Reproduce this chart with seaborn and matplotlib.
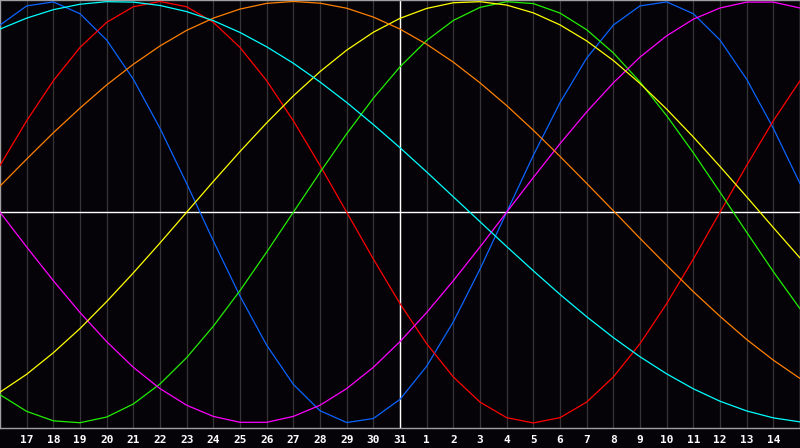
import numpy as np
import pandas as pd
import matplotlib
matplotlib.use('Agg')
import matplotlib.pyplot as plt
import seaborn as sns

# day positions (0 = 16th, 30 = 15th of next month) and labels
days = list(range(0, 31))
day_labels = [str(d) for d in range(17, 32)] + [str(d) for d in range(1, 15)]

# cycle values, one per day
physical = [0.888, 0.979, 0.998, 0.942, 0.817, 0.631, 0.398, 0.136, -0.136, -0.398, -0.631,
            -0.817, -0.942, -0.998, -0.979, -0.888, -0.731, -0.520, -0.270, 0.000, 0.270,
            0.520, 0.731, 0.888, 0.979, 0.998, 0.942, 0.817, 0.631, 0.398, 0.136]
emotional = [0.222, 0.434, 0.624, 0.782, 0.901, 0.975, 1.000, 0.975, 0.901, 0.782, 0.624,
             0.434, 0.222, 0.000, -0.222, -0.434, -0.624, -0.782, -0.901, -0.975, -1.000,
             -0.975, -0.901, -0.782, -0.624, -0.434, -0.222, 0.000, 0.222, 0.434, 0.624]
intellectual = [-0.866, -0.945, -0.990, -0.999, -0.972, -0.910, -0.815, -0.690, -0.541, -0.372,
                -0.189, 0.000, 0.189, 0.372, 0.541, 0.690, 0.815, 0.910, 0.972, 0.999, 0.990,
                0.945, 0.866, 0.756, 0.618, 0.458, 0.282, 0.095, -0.095, -0.282, -0.458]
intuitive = [0.000, -0.165, -0.325, -0.476, -0.614, -0.736, -0.837, -0.916, -0.969, -0.997,
             -0.997, -0.969, -0.916, -0.837, -0.736, -0.614, -0.476, -0.325, -0.165, 0.000,
             0.165, 0.325, 0.476, 0.614, 0.736, 0.837, 0.916, 0.969, 0.997, 0.997, 0.969]
aesthetic = [-0.854, -0.769, -0.667, -0.552, -0.424, -0.288, -0.146, 0.000, 0.146, 0.288,
             0.424, 0.552, 0.667, 0.769, 0.854, 0.920, 0.967, 0.994, 0.999, 0.983, 0.946,
             0.889, 0.813, 0.720, 0.611, 0.489, 0.357, 0.217, 0.073, -0.073, -0.217]
awareness = [0.124, 0.252, 0.377, 0.494, 0.604, 0.702, 0.789, 0.863, 0.921, 0.964, 0.991,
             1.000, 0.992, 0.968, 0.926, 0.869, 0.797, 0.712, 0.614, 0.506, 0.389, 0.265,
             0.137, 0.007, -0.124, -0.252, -0.377, -0.494, -0.604, -0.702, -0.789]
spiritual = [0.869, 0.921, 0.961, 0.987, 0.999, 0.997, 0.981, 0.952, 0.909, 0.853, 0.785,
             0.707, 0.618, 0.521, 0.416, 0.306, 0.191, 0.073, -0.045, -0.163, -0.278, -0.390,
             -0.496, -0.595, -0.686, -0.767, -0.838, -0.897, -0.943, -0.976, -0.995]

cycles = {'physical': physical, 'emotional': emotional, 'intellectual': intellectual,
          'intuitive': intuitive, 'aesthetic': aesthetic, 'awareness': awareness,
          'spiritual': spiritual}
colors = {'physical': '#0a64ff', 'emotional': '#ff0000', 'intellectual': '#22ee00',
          'intuitive': '#ff00ff', 'aesthetic': '#ffff00', 'awareness': '#ff8000',
          'spiritual': '#00ffff'}

df = pd.DataFrame([(d, name, v) for name, vals in cycles.items() for d, v in zip(days, vals)],
                  columns=['day', 'cycle', 'value'])

sns.set_theme(style='dark')
bg = '#050308'
fig = plt.figure(figsize=(8, 4.48), dpi=100, facecolor=bg)
ax = fig.add_axes([0, 20 / 448, 1, 428 / 448])
ax.set_facecolor(bg)

# day grid
for d in days[1:-1]:
    ax.axvline(d, color='#353535', lw=0.9, zorder=1)
ax.axhline(0, color='white', lw=1.0, zorder=2)
ax.axvline(15, color='white', lw=1.0, zorder=2)

sns.lineplot(data=df, x='day', y='value', hue='cycle', palette=colors, legend=False,
             lw=0.9, ax=ax, zorder=3)

ax.set_xlim(0, 30)
ax.set_ylim(-1.024, 1.007)
ax.set_xticks(days[1:-1])
ax.set_xticklabels(day_labels, color='white', fontsize=8, fontweight='bold',
                   family='DejaVu Sans Mono')
ax.set_yticks([])
ax.tick_params(axis='x', length=0, pad=5)
ax.set_xlabel('')
ax.set_ylabel('')
ax.grid(False)
for side in ['top', 'left', 'bottom', 'right']:
    ax.spines[side].set_color('#a0a0a0')
    ax.spines[side].set_linewidth(1.0)

fig.savefig('out.png', facecolor=bg)
